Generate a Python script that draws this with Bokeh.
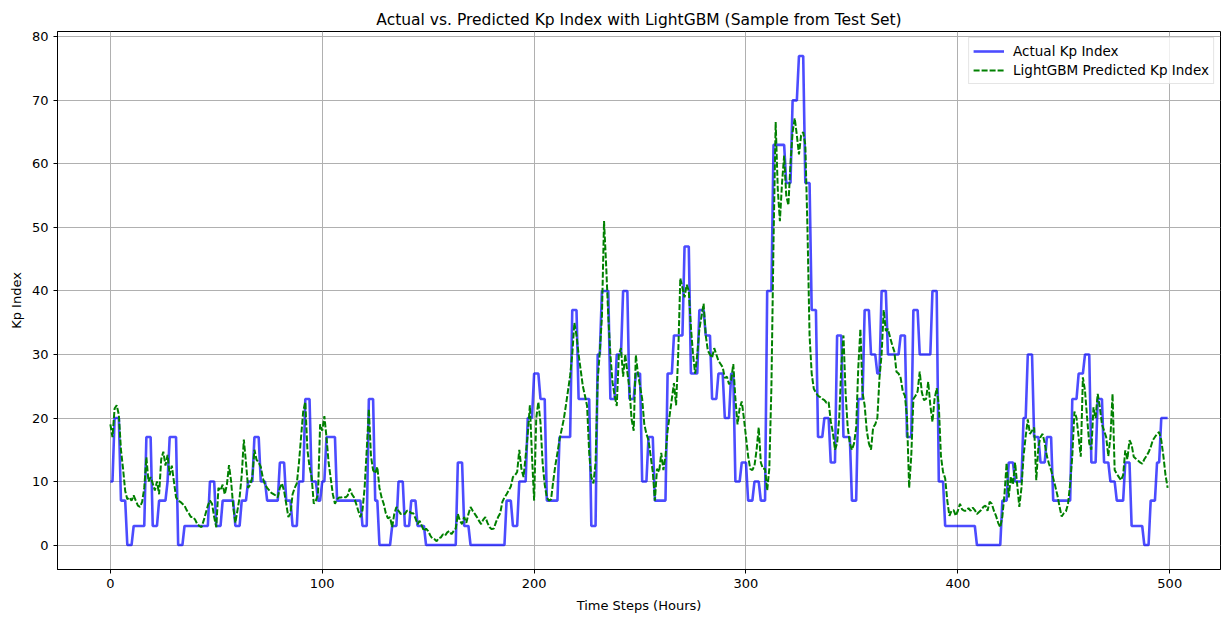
from bokeh.plotting import figure
from bokeh.models import FixedTicker, Legend, LegendItem, Range1d
from bokeh.embed import file_html
from bokeh.resources import INLINE

# ---------------- data ----------------
actual_kp = [
    10, 10, 20, 20, 20, 7, 7, 7, 0, 0,
    0, 3, 3, 3, 3, 3, 3, 17, 17, 17,
    3, 3, 3, 7, 7, 7, 7, 10, 17, 17,
    17, 17, 0, 0, 0, 3, 3, 3, 3, 3,
    3, 3, 3, 3, 3, 3, 3, 10, 10, 10,
    3, 3, 3, 7, 7, 7, 7, 7, 7, 3,
    3, 3, 7, 7, 7, 10, 10, 10, 17, 17,
    17, 10, 10, 10, 7, 7, 7, 7, 7, 7,
    13, 13, 13, 7, 7, 7, 3, 3, 3, 10,
    10, 10, 23, 23, 23, 10, 10, 10, 7, 7,
    10, 10, 17, 17, 17, 17, 17, 7, 7, 7,
    7, 7, 7, 7, 7, 7, 7, 7, 7, 3,
    3, 3, 23, 23, 23, 7, 7, 0, 0, 0,
    0, 0, 0, 3, 3, 3, 10, 10, 10, 3,
    3, 3, 7, 7, 7, 3, 3, 3, 3, 0,
    0, 0, 0, 0, 0, 0, 0, 0, 0, 0,
    0, 0, 0, 0, 13, 13, 13, 3, 3, 3,
    0, 0, 0, 0, 0, 0, 0, 0, 0, 0,
    0, 0, 0, 0, 0, 0, 0, 7, 7, 7,
    3, 3, 3, 10, 10, 10, 10, 20, 20, 20,
    27, 27, 27, 23, 23, 23, 7, 7, 7, 7,
    7, 7, 17, 17, 17, 17, 17, 17, 37, 37,
    37, 23, 23, 23, 23, 23, 23, 3, 3, 3,
    30, 30, 40, 40, 40, 40, 23, 23, 23, 30,
    30, 30, 40, 40, 40, 23, 23, 23, 27, 27,
    27, 10, 10, 10, 17, 17, 17, 7, 7, 7,
    7, 7, 7, 27, 27, 27, 33, 33, 33, 33,
    33, 47, 47, 47, 27, 27, 27, 27, 37, 37,
    37, 33, 33, 33, 23, 23, 23, 27, 27, 27,
    20, 20, 20, 27, 27, 10, 10, 10, 13, 13,
    13, 7, 7, 7, 10, 10, 10, 7, 7, 7,
    40, 40, 40, 63, 63, 63, 63, 63, 63, 57,
    57, 57, 70, 70, 70, 77, 77, 77, 57, 57,
    57, 37, 37, 37, 17, 17, 17, 20, 20, 20,
    13, 13, 13, 33, 33, 33, 17, 17, 17, 17,
    7, 7, 7, 23, 23, 23, 37, 37, 37, 30,
    30, 30, 27, 27, 40, 40, 40, 30, 30, 30,
    30, 30, 30, 33, 33, 33, 17, 17, 17, 37,
    37, 37, 30, 30, 30, 30, 30, 30, 40, 40,
    40, 10, 10, 10, 3, 3, 3, 3, 3, 3,
    3, 3, 3, 3, 3, 3, 3, 3, 3, 0,
    0, 0, 0, 0, 0, 0, 0, 0, 0, 0,
    0, 7, 7, 7, 13, 13, 13, 10, 10, 10,
    10, 20, 20, 30, 30, 30, 17, 17, 17, 13,
    13, 13, 17, 17, 17, 7, 7, 7, 7, 7,
    7, 7, 7, 7, 23, 23, 23, 27, 27, 27,
    30, 30, 30, 13, 13, 13, 23, 23, 23, 13,
    13, 13, 10, 10, 10, 7, 7, 7, 7, 13,
    13, 13, 3, 3, 3, 3, 3, 3, 0, 0,
    0, 7, 7, 7, 13, 13, 20, 20, 20, 20,
]

predicted_kp = [
    19, 17, 21.5, 22, 20.5, 15, 12, 8.5, 7.2, 7.5,
    7, 7.8, 7, 6.2, 6, 6.8, 9, 13.8, 10, 10.7,
    9.7, 8.6, 10, 8, 13.5, 14.7, 12.5, 14.2, 11, 12.5,
    10, 7.5, 7, 6.8, 6.5, 6.2, 5.5, 5, 4.4, 4.4,
    4, 3.3, 3, 2.8, 3.8, 5, 6.2, 7, 6.5, 4.4,
    2.8, 9, 8.6, 9.5, 8, 9.5, 12.6, 10, 6, 3.5,
    5.5, 7.5, 11, 16.6, 13, 9, 9.5, 10.7, 15, 13.4,
    13, 12.3, 10.5, 9.5, 9, 8.6, 8.2, 8, 7.8, 7.5,
    9, 9.7, 8.5, 6.5, 4.4, 5, 8, 9, 9.7, 12.9,
    17, 21, 22.5, 15, 12.3, 10.7, 6.5, 7, 8, 19,
    18, 20.3, 17, 13, 10.5, 8, 6.5, 7.2, 7.5, 7.5,
    7.6, 7.5, 7.8, 8.9, 8, 7.5, 6.5, 5.4, 4.4, 5.5,
    9, 15, 21.4, 14, 11.8, 11.3, 12.3, 9, 7.5, 6.5,
    5, 4.2, 4.4, 2.8, 4.9, 6, 5.4, 4.9, 5, 4.9,
    5.4, 5.4, 5, 5, 4.2, 3.3, 3.8, 3, 2.2, 2.6,
    2.2, 1.5, 1, 0.9, 0.6, 1.1, 1.2, 1.7, 1.5, 2,
    2.2, 1.7, 2.2, 2.6, 4.9, 3.8, 3.3, 4.4, 3.5, 4.9,
    6, 5.4, 4.9, 4.4, 3.8, 3.3, 4, 4.4, 3.5, 2.8,
    2.5, 2.6, 3.6, 4.4, 5, 6.8, 7.5, 8, 8.6, 9.2,
    10.7, 11, 11.5, 15, 12, 10.7, 14, 17.5, 22, 14,
    7, 20, 22.5, 19.3, 13, 9.5, 7.5, 7, 7.2, 10,
    12.5, 14.5, 16.6, 18.2, 19.8, 22, 24.3, 26.7, 30, 35,
    33, 30, 27.5, 25, 23.5, 21.9, 14.5, 10.7, 9.7, 13,
    26, 30.4, 36, 51, 44, 36, 30, 25.6, 23.5, 21.9,
    30, 31, 26.5, 30, 27.2, 24.6, 19.8, 18, 29.9, 27,
    25, 23, 19, 17.5, 16.5, 14, 11.5, 7, 12, 11.5,
    14.5, 11.8, 14, 18, 20.5, 23, 25.5, 22, 30, 42,
    40.5, 39, 41, 40, 34.3, 30, 27, 30, 34, 36,
    38, 33, 30.6, 30, 29.5, 31, 30, 29, 28.5, 28,
    26.3, 26.5, 25.3, 26, 28.5, 23, 19, 21.5, 22.6, 20,
    17, 14, 12, 11.8, 12.5, 15, 18.5, 13, 12, 12,
    8.6, 12, 25, 48, 66.6, 56, 51, 57, 61.3, 55,
    53.5, 60, 65, 67.2, 64.5, 61.5, 64.5, 65, 63, 50,
    33, 27, 24.6, 24, 23.5, 23.3, 23, 22.8, 22.4, 22.5,
    19.5, 17.7, 15, 16, 20, 28.3, 33, 24, 18.5, 16,
    15, 16, 18.5, 28, 34, 24, 22, 18, 16, 15,
    18.5, 19, 20, 26.3, 30, 37, 33.7, 34, 32.7, 31.5,
    30.5, 27.3, 27, 26.3, 24.2, 23.5, 20, 9, 14, 23,
    23.5, 24.2, 27.3, 24, 22.8, 23, 25.7, 22, 19.4, 23,
    24.7, 22, 14, 11.5, 10.5, 7, 4.6, 5.4, 5.5, 4.6,
    5.4, 6.5, 5.6, 5.4, 5.4, 5.8, 5.4, 5.9, 5.5, 4.9,
    5.2, 5.5, 6, 6.2, 5.4, 6.8, 6.5, 5.4, 4.6, 3.5,
    2.8, 4.5, 8, 12.9, 7.5, 10.8, 9.5, 13, 9.5, 6,
    9, 14, 17.1, 19.8, 17.5, 18, 18.5, 10.2, 15.5, 17,
    17.5, 16, 14, 12.8, 11.8, 10.5, 9.2, 7.8, 6, 4.5,
    5, 5.3, 6.5, 9.7, 14, 21, 20, 17, 13.9, 26.4,
    24.3, 20, 16, 15, 21.7, 20, 23.8, 21.7, 19, 18,
    17, 14, 17, 23.8, 11.8, 11.2, 10.7, 10.2, 11, 14.9,
    13.5, 16.5, 15.8, 13.9, 13.6, 13.3, 13, 12.8, 13.5, 14,
    14.6, 15.4, 16.5, 17, 17.5, 17.8, 16.5, 14, 11, 9,
]

hours_actual = list(range(len(actual_kp)))
hours_pred = list(range(len(predicted_kp)))

series_labels = ["Actual Kp Index", "LightGBM Predicted Kp Index"]
title_text = "Actual vs. Predicted Kp Index with LightGBM (Sample from Test Set)"
x_label = "Time Steps (Hours)"
y_label = "Kp Index"
x_ticks = [0, 100, 200, 300, 400, 500]
y_ticks = [0, 10, 20, 30, 40, 50, 60, 70, 80]

FONT = "DejaVu Sans"

# ---------------- figure ----------------
p = figure(
    width=1225, height=618,
    output_backend="svg", toolbar_location=None,
    x_range=Range1d(-24.95, 523.95), y_range=Range1d(-3.85, 80.85),
    min_border_left=57, min_border_right=5, min_border_top=31, min_border_bottom=49,
    title=title_text,
)
p.background_fill_color = "white"
p.border_fill_color = "white"
p.outline_line_color = "black"
p.outline_line_width = 1

p.title.align = "center"
p.title.text_font = FONT
p.title.text_font_size = "15.5px"
p.title.text_font_style = "normal"
p.title.text_color = "black"
p.title.standoff = 6
p.title.offset = 0

for ax in (p.xaxis[0], p.yaxis[0]):
    ax.axis_line_color = "black"
    ax.major_tick_line_color = "black"
    ax.major_tick_out = 4
    ax.major_tick_in = 0
    ax.minor_tick_line_color = None
    ax.major_label_text_font = FONT
    ax.major_label_text_font_size = "13px"
    ax.major_label_text_color = "black"
    ax.axis_label_text_font = FONT
    ax.axis_label_text_font_size = "13px"
    ax.axis_label_text_font_style = "normal"
    ax.axis_label_text_color = "black"
    ax.major_label_standoff = 5
    ax.axis_label_standoff = 5
p.xaxis[0].axis_label_standoff = 7

p.xaxis[0].ticker = FixedTicker(ticks=x_ticks)
p.yaxis[0].ticker = FixedTicker(ticks=y_ticks)
p.xaxis[0].axis_label = x_label
p.yaxis[0].axis_label = y_label

p.xgrid[0].ticker = FixedTicker(ticks=x_ticks)
p.ygrid[0].ticker = FixedTicker(ticks=y_ticks)
for g in (p.xgrid[0], p.ygrid[0]):
    g.grid_line_color = "#b0b0b0"
    g.grid_line_width = 1

r_actual = p.line(hours_actual, actual_kp, line_color="blue", line_alpha=0.7, line_width=2.6)
r_pred = p.line(hours_pred, predicted_kp, line_color="green", line_width=2, line_dash="6 2")

legend = Legend(
    items=[LegendItem(label=series_labels[0], renderers=[r_actual]),
           LegendItem(label=series_labels[1], renderers=[r_pred])],
    location="top_right",
    margin=6, padding=4, spacing=1,
    glyph_width=31, glyph_height=18, label_height=18, label_standoff=9,
    label_text_font=FONT, label_text_font_size="13.5px", label_text_color="black",
    border_line_color="#cccccc", border_line_width=1,
    background_fill_color="white", background_fill_alpha=0.8,
)
p.add_layout(legend, "center")

open("out.html", "w").write(file_html(p, INLINE))
